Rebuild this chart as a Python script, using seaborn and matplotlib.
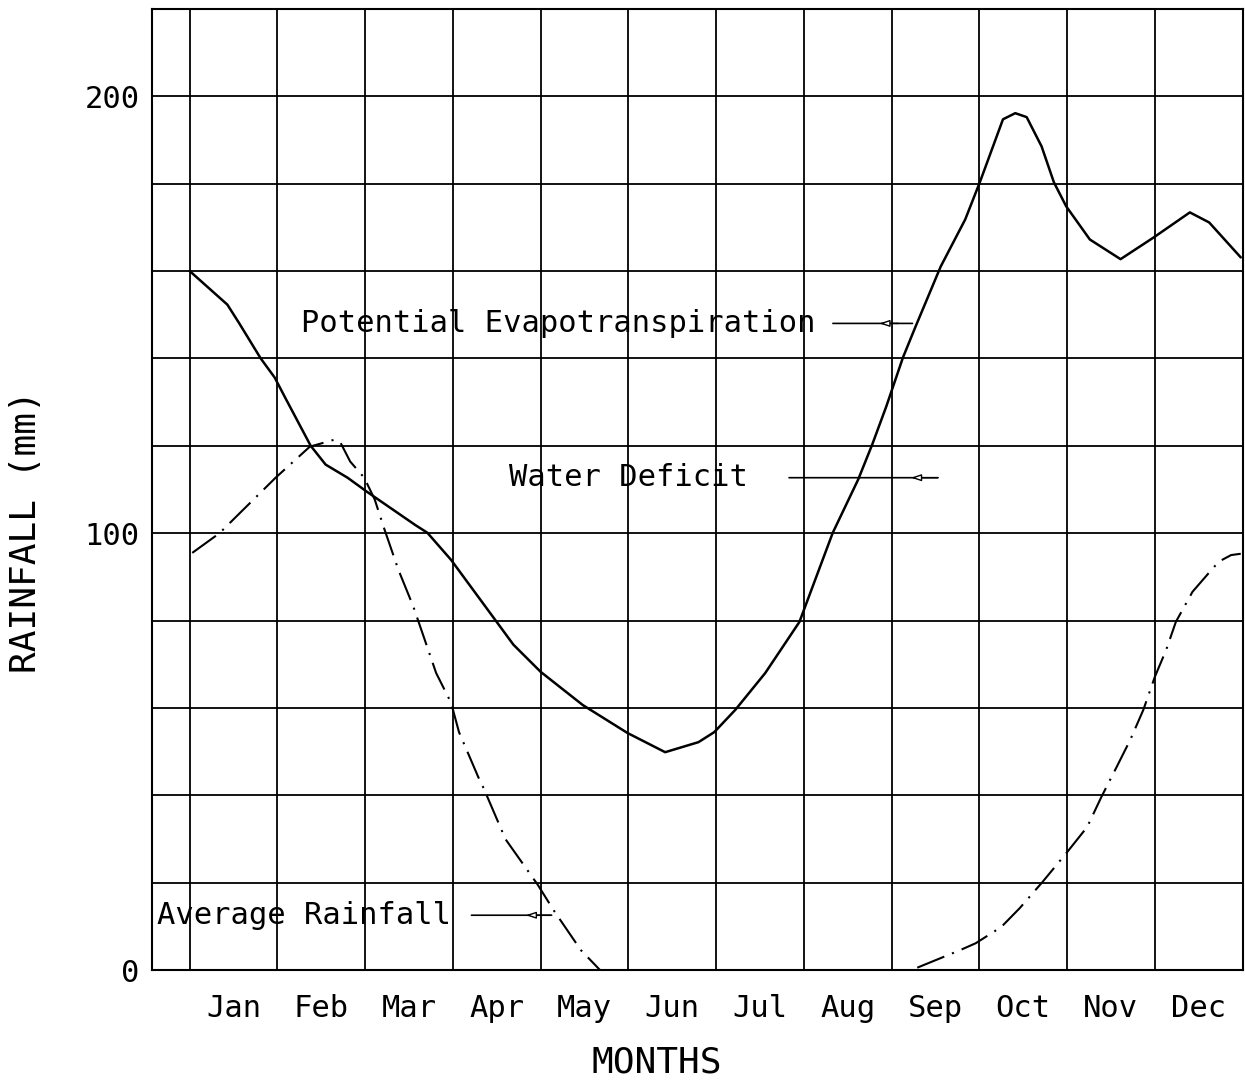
import numpy as np
import pandas as pd
import matplotlib
matplotlib.use('Agg')
import matplotlib.pyplot as plt
import seaborn as sns

# month names; curves are drawn on a month axis where 0 = start of Jan, 12 = end of Dec
months = ['Jan', 'Feb', 'Mar', 'Apr', 'May', 'Jun', 'Jul', 'Aug', 'Sep', 'Oct', 'Nov', 'Dec']

# potential evapotranspiration (solid line)
pet_x = [0.0, 0.43, 0.56, 0.81, 0.97, 1.10, 1.38, 1.55, 1.80, 2.02, 2.57, 2.71, 2.98,
         3.50, 3.69, 4.00, 4.48, 4.99, 5.42, 5.80, 5.98, 6.22, 6.56, 6.95, 7.33, 7.62,
         7.78, 7.94, 8.13, 8.27, 8.56, 8.84, 9.01, 9.27, 9.41, 9.54, 9.71, 9.85, 9.99,
         10.26, 10.61, 10.99, 11.40, 11.62, 11.98]
pet_mm = [160, 152.3, 148.2, 140, 135.6, 130.6, 120, 115.7, 112.7, 109.5, 101.9, 100.1, 93.9,
          79.7, 74.5, 68.3, 60.7, 54.3, 49.9, 52.2, 54.5, 59.6, 68.0, 79.7, 100.1, 112.3,
          120.3, 129, 140.2, 147.1, 161, 171.8, 180.5, 194.7, 196.1, 195.2, 188.5, 180.3, 174.8,
          167.2, 162.7, 167.7, 173.4, 171.1, 163.1]

# average rainfall (dash-dot line)
rain_x = [0.03, 0.34, 0.98, 1.37, 1.65, 1.72, 1.83, 1.99, 2.11, 2.21, 2.38, 2.55, 2.81,
          2.98, 3.07, 3.29, 3.35, 3.60, 3.97, 4.15, 4.46, 4.68, 5.0, 6.0, 7.0, 8.0, 8.22,
          8.78, 8.96, 9.25, 9.46, 9.72, 10.0, 10.23, 10.39, 10.56, 10.72, 10.87, 11.0,
          11.13, 11.24, 11.43, 11.62, 11.73, 11.87, 11.98]
rain_mm = [95.5, 100, 112.7, 119.8, 121.4, 120.7, 116.4, 112.7, 107.7, 101.5, 91.6, 83.2, 68,
           61.2, 54.5, 44.2, 41.7, 30, 19.5, 13.7, 4.6, 0, 0, 0, 0, 0, 0,
           4.6, 6.2, 9.9, 14.2, 20.2, 27, 32.8, 39.6, 46.3, 52.7, 59.6, 67.1,
           73.3, 79.7, 86.6, 91, 93.5, 95, 95.3]

pet = pd.DataFrame({'month': pet_x, 'mm': pet_mm})
rain = pd.DataFrame({'month': rain_x, 'mm': rain_mm})

sns.set_style('white')
plt.rcParams['font.family'] = ['DejaVu Sans Mono', 'DejaVu Sans']

fig = plt.figure(figsize=(12.45, 10.89), dpi=100)
ax = fig.add_axes([0.122, 0.109, 0.876, 0.883])

sns.lineplot(data=pet, x='month', y='mm', sort=False, color='black', lw=1.8, ax=ax)
sns.lineplot(data=rain, x='month', y='mm', sort=False, color='black', lw=1.5,
             linestyle=(0, (14, 4, 1, 4)), ax=ax)

ax.set_xlim(-0.43, 12)
ax.set_ylim(0, 220)

# month labels sit in the middle of each cell, grid on the cell edges
ax.set_xticks(np.arange(12) + 0.5)
ax.set_xticklabels(months)
ax.set_xticks(np.arange(13), minor=True)
yt = np.arange(0, 221, 20)
ax.set_yticks(yt)
ax.set_yticklabels([str(v) if v % 100 == 0 else '' for v in yt])
ax.grid(False)
ax.grid(True, which='minor', axis='x', color='black', lw=1.3)
ax.grid(True, which='major', axis='y', color='black', lw=1.3)
ax.tick_params(axis='both', which='both', length=0, labelsize=22, colors='black')
ax.tick_params(axis='x', pad=17)
ax.tick_params(axis='y', pad=9)
for s in ax.spines.values():
    s.set_color('black')
    s.set_linewidth(1.5)

ax.set_xlabel('MONTHS', fontsize=26, color='black')
ax.set_ylabel('RAINFALL (mm)', fontsize=26, color='black')
ax.xaxis.set_label_coords(0.463, -0.078)
ax.yaxis.set_label_coords(-0.10, 0.456)

# labels with leader lines and small open arrowheads
notes = [
    ('Potential Evapotranspiration', (1.27, 148), (7.30, 148), (8.27, 148), (7.83, 8.11)),
    ('Water Deficit', (3.64, 112.7), (6.80, 112.7), (8.56, 112.7), (8.19, 8.56)),
    ('Average Rainfall', (-0.37, 12.6), (3.18, 12.6), (4.15, 12.6), (3.80, 4.16)),
]
for label, txt_pos, line_start, line_end, head in notes:
    ax.text(txt_pos[0], txt_pos[1], label, fontsize=22, ha='left', va='center',
            color='black')
    ax.annotate('', xy=line_end, xytext=line_start,
                arrowprops=dict(arrowstyle='-', color='black', lw=1.2))
    ax.annotate('', xy=(head[0], line_start[1]), xytext=(head[1], line_start[1]),
                arrowprops=dict(arrowstyle='-|>,head_length=0.6,head_width=0.2',
                                fc='white', ec='black', lw=1.0))

fig.savefig('out.png', dpi=100)
